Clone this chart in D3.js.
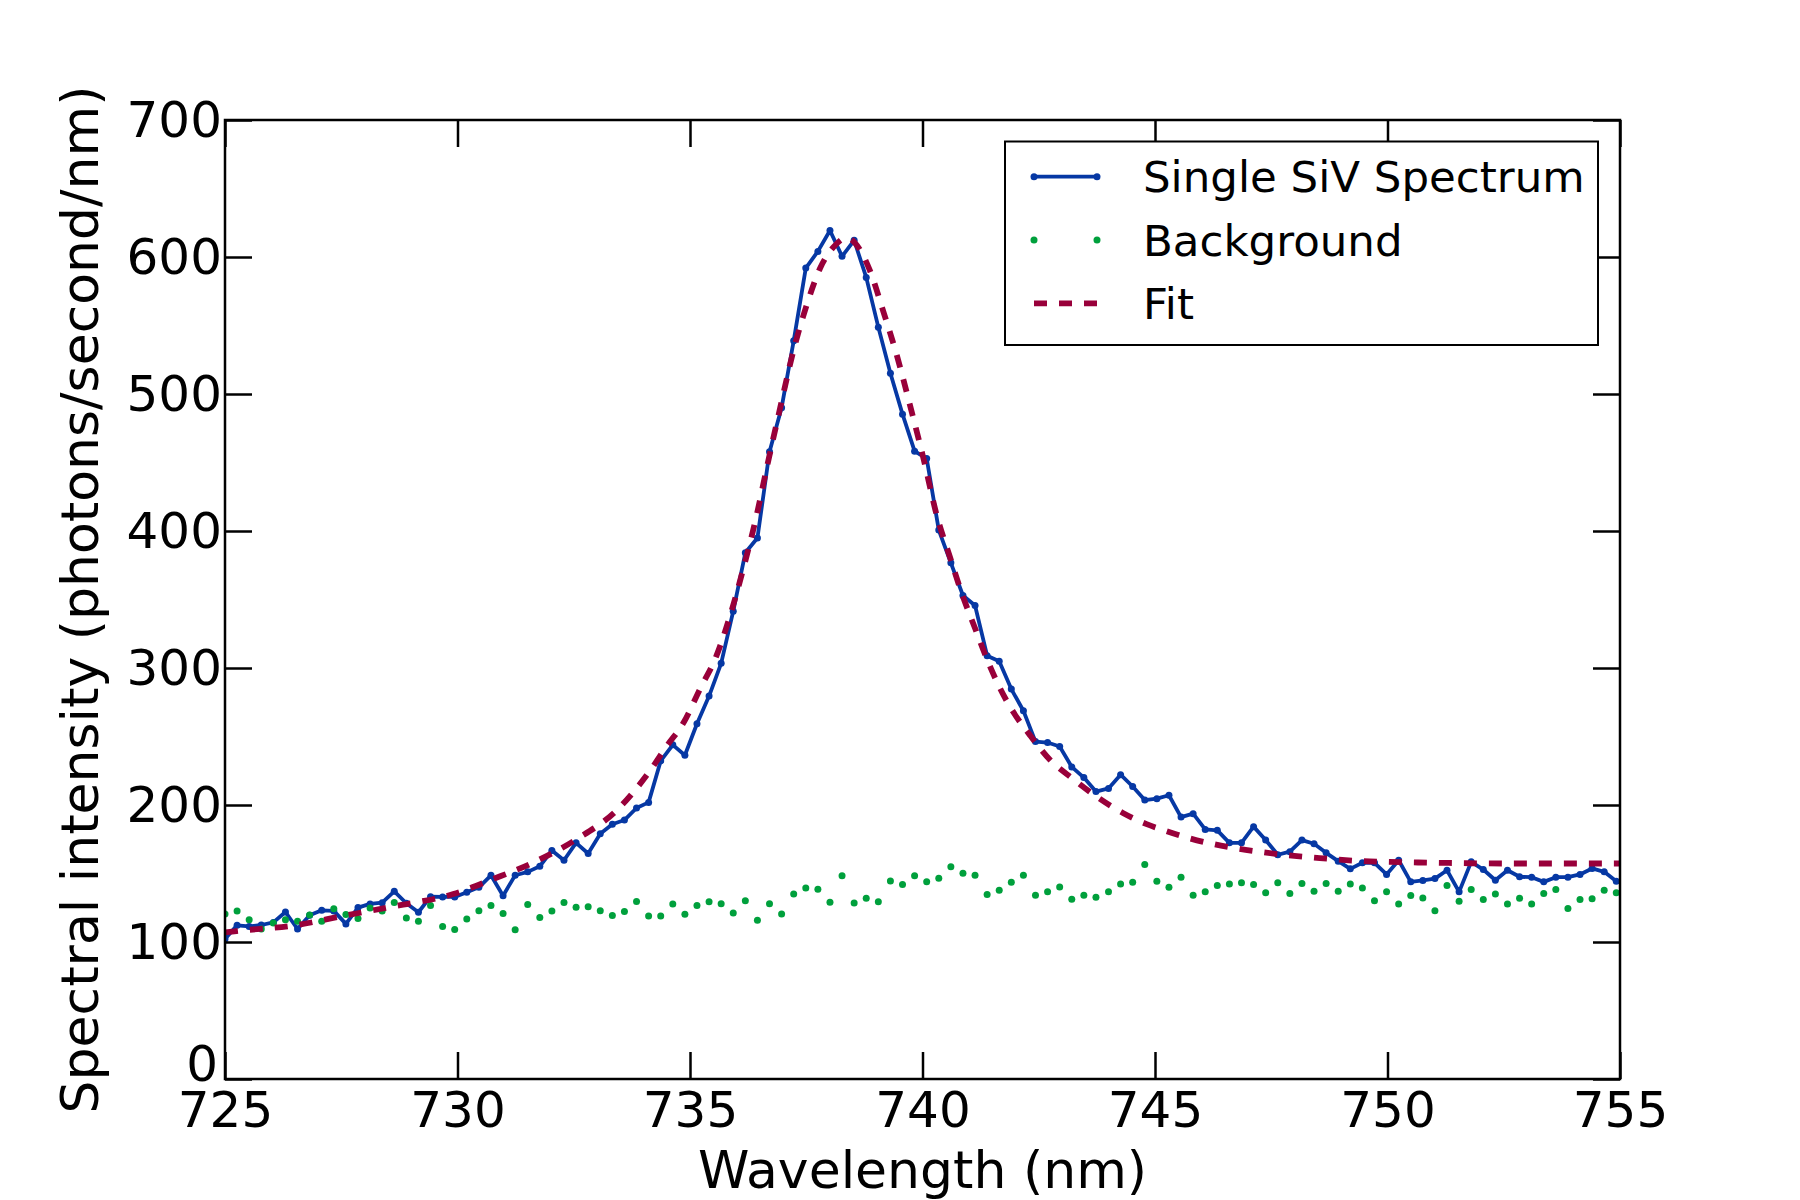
<!DOCTYPE html>
<html>
<head>
<meta charset="utf-8">
<script src="https://cdn.jsdelivr.net/npm/d3@7"></script>
<style>
  body { margin: 0; background: #fff; }
  text { font-family: "DejaVu Sans", sans-serif; fill: #000; }
</style>
</head>
<body>
<script>
// spectrometer wavelength grid (nm)
var wavelength = [
  725.00,725.26,725.52,725.78,726.04,726.30,726.56,726.82,727.08,727.34,
  727.60,727.86,728.12,728.38,728.64,728.90,729.16,729.42,729.68,729.94,
  730.20,730.46,730.72,730.98,731.24,731.51,731.77,732.03,732.29,732.55,
  732.81,733.07,733.33,733.59,733.85,734.11,734.37,734.63,734.89,735.15,
  735.41,735.67,735.93,736.19,736.45,736.71,736.97,737.23,737.49,737.75,
  738.01,738.27,738.53,738.79,739.05,739.31,739.57,739.83,740.09,740.35,
  740.61,740.87,741.13,741.39,741.65,741.91,742.17,742.43,742.69,742.95,
  743.21,743.47,743.73,744.00,744.26,744.52,744.78,745.04,745.30,745.56,
  745.82,746.08,746.34,746.60,746.86,747.12,747.38,747.64,747.90,748.16,
  748.42,748.68,748.94,749.20,749.46,749.72,749.98,750.24,750.50,750.76,
  751.02,751.28,751.54,751.80,752.06,752.32,752.58,752.84,753.10,753.36,
  753.62,753.88,754.14,754.40,754.66,754.92
];

// single SiV spectrum (photons/second/nm)
var spectrum = [
  102.2,112.2,111.4,112.4,114.3,121.9,109.5,119.5,123.1,122.7,
  113.2,125.1,127.8,128.7,137.0,128.3,121.7,133.1,132.9,132.9,
  136.3,139.9,148.7,133.8,148.7,151.2,155.3,166.8,159.7,172.4,
  164.6,179.0,186.0,189.0,197.8,201.9,232.2,243.9,236.3,259.3,
  279.5,303.4,341.5,384.1,394.9,457.8,490.0,538.8,591.9,604.1,
  619.3,600.5,612.2,585.1,548.8,515.1,485.3,458.3,452.9,400.7,
  376.8,352.9,345.6,309.0,304.9,284.6,268.8,246.3,245.6,242.7,
  227.8,220.0,209.8,212.1,222.1,213.5,203.6,204.6,207.1,191.2,
  193.7,182.2,181.5,172.4,172.4,184.2,174.4,163.7,165.9,174.4,
  171.7,165.1,159.0,153.4,157.8,157.8,149.3,159.7,143.9,144.9,
  146.3,152.4,136.6,158.5,152.9,145.1,152.4,147.6,147.3,143.9,
  147.3,147.3,149.3,153.7,151.2,144.4
];

// background
var background = [
  120.5,122.7,116.3,109.5,113.8,116.3,115.1,119.7,115.1,124.2,
  120.0,117.1,124.9,122.7,128.8,117.6,115.1,126.6,111.4,109.2,
  116.8,122.9,126.6,120.8,109.0,127.4,117.8,122.7,128.8,125.4,
  125.7,122.9,119.3,122.2,129.5,118.9,118.9,127.8,120.2,126.6,
  129.3,128.0,121.2,130.2,115.8,128.0,120.5,135.1,139.5,138.5,
  129.0,148.3,128.5,131.9,129.3,144.6,141.9,148.3,143.9,146.6,
  154.9,150.2,148.8,134.6,137.8,143.6,148.8,134.1,136.6,140.2,
  131.2,134.1,132.7,136.6,142.3,143.6,156.6,144.4,140.0,147.3,
  134.1,136.6,141.2,142.4,143.2,141.9,135.9,143.2,135.4,142.7,
  137.1,142.7,137.1,142.4,139.5,130.2,136.6,127.8,133.9,132.2,
  122.9,141.2,129.7,138.3,131.0,135.1,127.8,131.9,127.8,135.4,
  138.3,124.4,131.0,131.5,137.8,135.9
];

var fitWavelength = [
  725.00,725.25,726.47,727.54,728.62,729.91,730.77,731.63,732.56,733.42,
  734.14,734.50,734.86,735.22,735.57,735.86,736.15,736.43,736.65,736.94,
  737.22,737.51,737.80,738.08,738.37,738.66,738.87,739.16,739.45,739.73,
  740.02,740.31,740.59,740.84,741.13,741.38,741.67,741.95,742.31,742.74,
  743.24,743.75,744.32,744.82,745.20,745.71,746.22,746.72,747.31,747.78,
  748.40,748.91,749.49,750.00,751.09,752.54,755.00
];
var fitValue = [
  107,108,112,119,126,135,146,158,175,196,
  225,243,260,285,309,338,373,411,446,490,
  531,565,592,607,614,605,590,560,528,492,
  453,411,381,355,329,307,285,268,251,233,
  219,206,194,186,181.5,176,171.7,168.5,165.6,163.6,
  161.7,160.2,159.0,158.5,157.8,157.3,157.3
];

var xTicks = [725, 730, 735, 740, 745, 750, 755];
var yTicks = [0, 100, 200, 300, 400, 500, 600, 700];

var seriesNames = ["Single SiV Spectrum", "Background", "Fit"];
var blue = "#0638a4", green = "#00a03c", red = "#99003a";

var width = 1800, height = 1200;
var mLeft = 225, mRight = 1620, mTop = 120, mBottom = 1079;
var tickLen = 27;

var svg = d3.select("body")
  .append("svg")
  .attr("width", width)
  .attr("height", height);

svg.append("rect")
  .attr("width", width)
  .attr("height", height)
  .attr("fill", "#fff");

var x = d3.scaleLinear().domain([725, 755]).range([mLeft, mRight]);
var y = d3.scaleLinear().domain([0, 700]).range([mBottom, mTop]);

svg.append("clipPath")
  .attr("id", "plotclip")
  .append("rect")
  .attr("x", mLeft)
  .attr("y", mTop)
  .attr("width", mRight - mLeft)
  .attr("height", mBottom - mTop);

var plot = svg.append("g").attr("clip-path", "url(#plotclip)");

var specData = wavelength.map(function(w, i) { return { w: w, v: spectrum[i] }; });
var bgData = wavelength.map(function(w, i) { return { w: w, v: background[i] }; });
var fitData = fitWavelength.map(function(w, i) { return { w: w, v: fitValue[i] }; });

// spectrum line + markers
plot.append("path")
  .datum(specData)
  .attr("d", d3.line()
    .x(function(d) { return x(d.w); })
    .y(function(d) { return y(d.v); }))
  .attr("fill", "none")
  .attr("stroke", blue)
  .attr("stroke-width", 3.8)
  .attr("stroke-linejoin", "round");

plot.append("g")
  .selectAll("circle")
  .data(specData)
  .enter().append("circle")
  .attr("cx", function(d) { return x(d.w); })
  .attr("cy", function(d) { return y(d.v); })
  .attr("r", 3.5)
  .attr("fill", blue);

// background dots
plot.append("g")
  .selectAll("circle")
  .data(bgData)
  .enter().append("circle")
  .attr("cx", function(d) { return x(d.w); })
  .attr("cy", function(d) { return y(d.v); })
  .attr("r", 3.5)
  .attr("fill", green);

// fit
plot.append("path")
  .datum(fitData)
  .attr("d", d3.line()
    .curve(d3.curveMonotoneX)
    .x(function(d) { return x(d.w); })
    .y(function(d) { return y(d.v); }))
  .attr("fill", "none")
  .attr("stroke", red)
  .attr("stroke-width", 5.8)
  .attr("stroke-dasharray", "13,12");

// axes, ticks inward on all four sides
function styleAxis(g) {
  g.select(".domain").remove();
  g.selectAll(".tick line").attr("stroke", "#000").attr("stroke-width", 2.5);
  g.attr("font-family", "DejaVu Sans").attr("font-size", 50);
}

svg.append("g")
  .attr("transform", "translate(0," + mBottom + ")")
  .call(d3.axisBottom(x).tickValues(xTicks).tickSize(-tickLen).tickSizeOuter(0)
    .tickPadding(12).tickFormat(d3.format("d")))
  .call(styleAxis);

var yAxis = svg.append("g")
  .attr("transform", "translate(" + mLeft + ",0)")
  .call(d3.axisLeft(y).tickValues(yTicks).tickSize(-tickLen).tickSizeOuter(0)
    .tickPadding(3).tickFormat(d3.format("d")))
  .call(styleAxis);
yAxis.selectAll(".tick text")
  .filter(function(d) { return d === 0; })
  .attr("transform", "translate(-4,-15)");

svg.append("g")
  .attr("transform", "translate(0," + mTop + ")")
  .call(d3.axisTop(x).tickValues(xTicks).tickSize(-tickLen).tickSizeOuter(0)
    .tickFormat(function() { return ""; }))
  .call(styleAxis);

svg.append("g")
  .attr("transform", "translate(" + mRight + ",0)")
  .call(d3.axisRight(y).tickValues(yTicks).tickSize(-tickLen).tickSizeOuter(0)
    .tickFormat(function() { return ""; }))
  .call(styleAxis);

svg.append("rect")
  .attr("x", mLeft)
  .attr("y", mTop)
  .attr("width", mRight - mLeft)
  .attr("height", mBottom - mTop)
  .attr("fill", "none")
  .attr("stroke", "#000")
  .attr("stroke-width", 2.5);

// labels
svg.append("text")
  .attr("x", (mLeft + mRight) / 2)
  .attr("y", 1188)
  .style("text-anchor", "middle")
  .style("font-size", "52px")
  .text("Wavelength (nm)");

svg.append("text")
  .attr("transform", "translate(98," + ((mTop + mBottom) / 2) + ") rotate(-90)")
  .style("text-anchor", "middle")
  .style("font-size", "52px")
  .text("Spectral intensity (photons/second/nm)");

// legend
var lg = svg.append("g");
lg.append("rect")
  .attr("x", 1005)
  .attr("y", 141.5)
  .attr("width", 593)
  .attr("height", 203.5)
  .attr("fill", "#fff")
  .attr("stroke", "#000")
  .attr("stroke-width", 2);

var rowY = [176.7, 240, 303.3];
var sx0 = 1034, sx1 = 1097;

lg.append("line")
  .attr("x1", sx0).attr("x2", sx1)
  .attr("y1", rowY[0]).attr("y2", rowY[0])
  .attr("stroke", blue).attr("stroke-width", 3.8);
lg.selectAll("circle.sp")
  .data([sx0, sx1])
  .enter().append("circle")
  .attr("class", "sp")
  .attr("cx", function(d) { return d; })
  .attr("cy", rowY[0])
  .attr("r", 3.5)
  .attr("fill", blue);

lg.selectAll("circle.bg")
  .data([sx0, sx1])
  .enter().append("circle")
  .attr("class", "bg")
  .attr("cx", function(d) { return d; })
  .attr("cy", rowY[1])
  .attr("r", 3.5)
  .attr("fill", green);

lg.append("line")
  .attr("x1", sx0).attr("x2", sx1)
  .attr("y1", rowY[2]).attr("y2", rowY[2])
  .attr("stroke", red).attr("stroke-width", 5.8)
  .attr("stroke-dasharray", "13,12");

lg.selectAll("text")
  .data(seriesNames)
  .enter().append("text")
  .attr("x", 1143)
  .attr("y", function(d, i) { return rowY[i] + 15.5; })
  .style("font-size", "43.5px")
  .text(function(d) { return d; });
</script>
</body>
</html>
